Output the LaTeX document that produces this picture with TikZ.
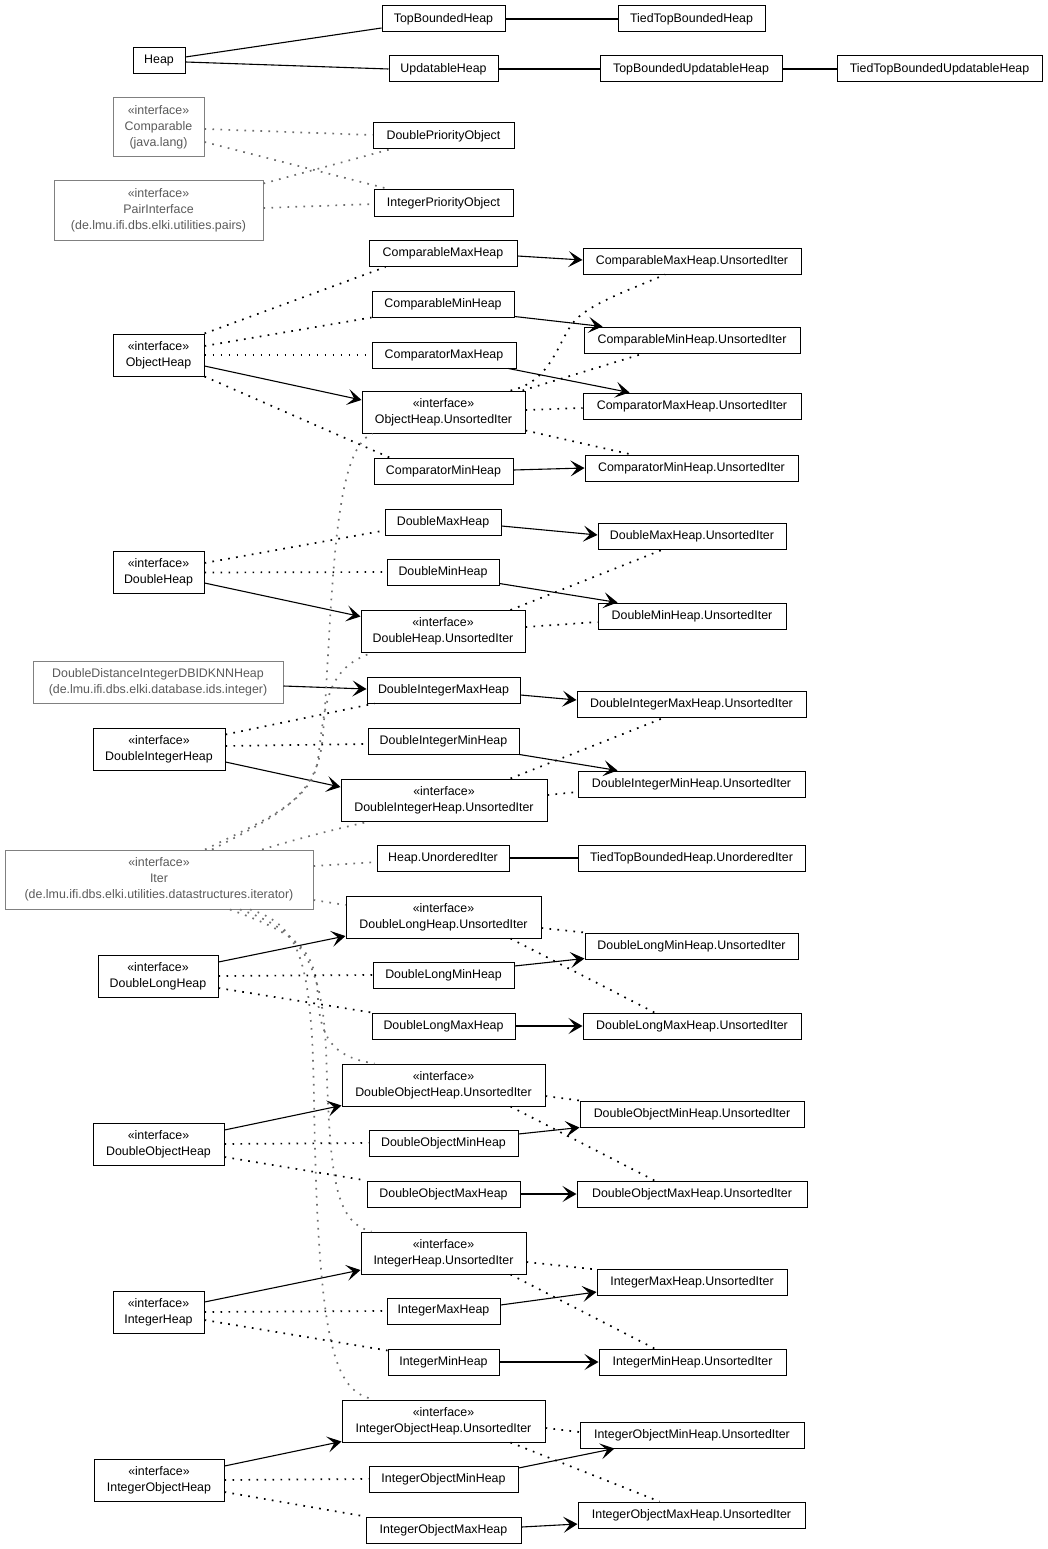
\documentclass[tikz,border=0pt]{standalone}
\usepackage{fontspec}
\setmainfont{Liberation Sans}[Ligatures=NoCommon]
\usetikzlibrary{arrows.meta}
\definecolor{extgray}{HTML}{808080}
\definecolor{exttext}{HTML}{5A5A5A}
\definecolor{extdot}{HTML}{6E6E6E}
\begin{document}
\begin{tikzpicture}[x=1pt,y=-1pt,
  box/.style={draw=black, line width=1pt, fill=white, inner xsep=0pt, inner ysep=1pt,
    font=\fontsize{12.4}{16}\selectfont, align=center, minimum height=26pt},
  boxtwo/.style={box, minimum height=42pt},
  extbox/.style={box, draw=extgray, text=exttext, minimum height=59pt},
  extboxtwo/.style={box, draw=extgray, text=exttext, minimum height=42pt},
  conn/.style={draw=black, line width=1.1pt},
  arr/.style={conn, -{Stealth[length=14pt,width=16pt,inset=6.5pt]}},
  real/.style={draw=black, line width=1.7pt, dash pattern=on 1.7pt off 6.3pt},
  extreal/.style={draw=extdot, line width=1.7pt, dash pattern=on 1.7pt off 6.3pt}
]
\useasboundingbox (0,0) rectangle (1048,1549);

% ---------- nodes ----------
\node[box, minimum width=52pt] (heap) at (159,60.5) {Heap};
\node[box, minimum width=123pt] (tbh) at (443.5,19) {TopBoundedHeap};
\node[box, minimum width=147pt] (ttbh) at (691.5,19) {TiedTopBoundedHeap};
\node[box, minimum width=109pt] (uh) at (443.5,69) {UpdatableHeap};
\node[box, minimum width=182pt] (tbuh) at (691,69) {TopBoundedUpdatableHeap};
\node[box, minimum width=205pt] (ttbuh) at (939.5,69) {TiedTopBoundedUpdatableHeap};

\node[extbox, minimum width=91pt] (comparable) at (158.5,127.5) {«interface»\\Comparable\\(java.lang)};
\node[extbox, minimum width=209pt] (pair) at (158.5,210.5) {«interface»\\PairInterface\\(de.lmu.ifi.dbs.elki.utilities.pairs)};
\node[box, minimum width=141pt] (dpo) at (443.5,136) {DoublePriorityObject};
\node[box, minimum width=139pt] (ipo) at (443.5,203) {IntegerPriorityObject};

\node[box, minimum width=148pt] (cmaxh) at (443,253.5) {ComparableMaxHeap};
\node[box, minimum width=218pt] (cmaxhui) at (692,261) {ComparableMaxHeap.UnsortedIter};
\node[box, minimum width=142pt] (cminh) at (443,304) {ComparableMinHeap};
\node[box, minimum width=216pt] (cminhui) at (692,340) {ComparableMinHeap.UnsortedIter};
\node[boxtwo, minimum width=91pt] (objheap) at (158.5,355) {«interface»\\ObjectHeap};
\node[box, minimum width=144pt] (cpmaxh) at (444,355) {ComparatorMaxHeap};
\node[boxtwo, minimum width=163pt] (ohui) at (443.5,412) {«interface»\\ObjectHeap.UnsortedIter};
\node[box, minimum width=218pt] (cpmaxhui) at (692,406) {ComparatorMaxHeap.UnsortedIter};
\node[box, minimum width=139pt] (cpminh) at (443.5,471) {ComparatorMinHeap};
\node[box, minimum width=213pt] (cpminhui) at (691.5,468) {ComparatorMinHeap.UnsortedIter};

\node[box, minimum width=116pt] (dmaxh) at (443,522) {DoubleMaxHeap};
\node[box, minimum width=188pt] (dmaxhui) at (692,536) {DoubleMaxHeap.UnsortedIter};
\node[boxtwo, minimum width=91pt] (dheap) at (158.5,572.5) {«interface»\\DoubleHeap};
\node[box, minimum width=112pt] (dminh) at (443,572) {DoubleMinHeap};
\node[box, minimum width=188pt] (dminhui) at (692,616) {DoubleMinHeap.UnsortedIter};
\node[boxtwo, minimum width=164pt] (dhui) at (443,631.5) {«interface»\\DoubleHeap.UnsortedIter};

\node[extboxtwo, minimum width=250pt] (ddknn) at (158,682) {DoubleDistanceIntegerDBIDKNNHeap\\(de.lmu.ifi.dbs.elki.database.ids.integer)};
\node[box, minimum width=153pt] (dimaxh) at (443.5,690) {DoubleIntegerMaxHeap};
\node[box, minimum width=229pt] (dimaxhui) at (691.5,704) {DoubleIntegerMaxHeap.UnsortedIter};
\node[boxtwo, minimum width=132pt] (diheap) at (159,749) {«interface»\\DoubleIntegerHeap};
\node[box, minimum width=151pt] (diminh) at (443.5,741) {DoubleIntegerMinHeap};
\node[box, minimum width=227pt] (diminhui) at (691.5,784) {DoubleIntegerMinHeap.UnsortedIter};
\node[boxtwo, minimum width=206pt] (dihui) at (444,800) {«interface»\\DoubleIntegerHeap.UnsortedIter};

\node[extbox, minimum width=308pt] (iter) at (159,879.5) {«interface»\\Iter\\(de.lmu.ifi.dbs.elki.utilities.datastructures.iterator)};
\node[box, minimum width=132pt] (huoi) at (443,858) {Heap.UnorderedIter};
\node[box, minimum width=227pt] (ttbhuoi) at (691.5,858) {TiedTopBoundedHeap.UnorderedIter};

\node[boxtwo, minimum width=195pt] (dlhui) at (443.5,917) {«interface»\\DoubleLongHeap.UnsortedIter};
\node[box, minimum width=213pt] (dlminhui) at (691.5,946) {DoubleLongMinHeap.UnsortedIter};
\node[boxtwo, minimum width=120pt] (dlheap) at (158,976) {«interface»\\DoubleLongHeap};
\node[box, minimum width=141pt] (dlminh) at (443.5,975) {DoubleLongMinHeap};
\node[box, minimum width=143pt] (dlmaxh) at (443.5,1026) {DoubleLongMaxHeap};
\node[box, minimum width=218pt] (dlmaxhui) at (692,1026) {DoubleLongMaxHeap.UnsortedIter};

\node[boxtwo, minimum width=203pt] (dohui) at (443.5,1085) {«interface»\\DoubleObjectHeap.UnsortedIter};
\node[box, minimum width=224pt] (dominhui) at (692,1114) {DoubleObjectMinHeap.UnsortedIter};
\node[boxtwo, minimum width=131pt] (doheap) at (158.5,1144) {«interface»\\DoubleObjectHeap};
\node[box, minimum width=149pt] (dominh) at (443.5,1143) {DoubleObjectMinHeap};
\node[box, minimum width=153pt] (domaxh) at (443.5,1194) {DoubleObjectMaxHeap};
\node[box, minimum width=230pt] (domaxhui) at (692,1194) {DoubleObjectMaxHeap.UnsortedIter};

\node[boxtwo, minimum width=165pt] (ihui) at (443.5,1253) {«interface»\\IntegerHeap.UnsortedIter};
\node[box, minimum width=190pt] (imaxhui) at (692,1282) {IntegerMaxHeap.UnsortedIter};
\node[boxtwo, minimum width=91pt] (iheap) at (158.5,1312) {«interface»\\IntegerHeap};
\node[box, minimum width=113pt] (imaxh) at (443.5,1311) {IntegerMaxHeap};
\node[box, minimum width=111pt] (iminh) at (443.5,1362) {IntegerMinHeap};
\node[box, minimum width=187pt] (iminhui) at (692.5,1362) {IntegerMinHeap.UnsortedIter};

\node[boxtwo, minimum width=203pt] (iohui) at (443.5,1421) {«interface»\\IntegerObjectHeap.UnsortedIter};
\node[box, minimum width=224pt] (iominhui) at (692,1435) {IntegerObjectMinHeap.UnsortedIter};
\node[boxtwo, minimum width=130pt] (ioheap) at (159,1480) {«interface»\\IntegerObjectHeap};
\node[box, minimum width=149pt] (iominh) at (443.5,1479) {IntegerObjectMinHeap};
\node[box, minimum width=155pt] (iomaxh) at (443.5,1530) {IntegerObjectMaxHeap};
\node[box, minimum width=227pt] (iomaxhui) at (691.5,1515) {IntegerObjectMaxHeap.UnsortedIter};

% ---------- plain associations ----------
\draw[conn] ([shift={(0,-3.5)}]heap.east) -- ([shift={(0,9)}]tbh.west);
\draw[conn] ([shift={(0,1.5)}]heap.east) -- (uh.west);
\draw[conn] (tbh.east) -- (ttbh.west);
\draw[conn] (uh.east) -- (tbuh.west);
\draw[conn] (tbuh.east) -- (ttbuh.west);
\draw[conn] (huoi.east) -- (ttbhuoi.west);

% ---------- external interfaces ----------
\draw[extreal] ([shift={(0,1.5)}]comparable.east) -- ([shift={(0,-1)}]dpo.west);
\draw[extreal] ([shift={(0,14.5)}]comparable.east) -- ([shift={(17,0)}]ipo.north west);
\draw[extreal] ([shift={(0,3)}]pair.north east) -- ([shift={(17,0)}]dpo.south west);
\draw[extreal] ([shift={(0,-2.5)}]pair.east) -- ([shift={(0,1)}]ipo.west);

% ---------- ObjectHeap ----------
\draw[real] (objheap.north east) -- ([shift={(17,0)}]cmaxh.south west);
\draw[real] ([shift={(0,-9)}]objheap.east) -- (cminh.south west);
\draw[real] (objheap.east) -- (cpmaxh.west);
\draw[real] (objheap.south east) -- ([shift={(16,0)}]cpminh.north west);
\draw[arr] ([shift={(0,11)}]objheap.east) -- ([shift={(0,-12)}]ohui.west);
\draw[real] ([shift={(-15,0)}]ohui.north east) .. controls (550,382) and (557,345) .. (572,324) .. controls (587,304) and (630,290) .. ([shift={(-27,0)}]cmaxhui.south);
\draw[real] ([shift={(-3,0)}]ohui.north east) -- ([shift={(60,0)}]cminhui.south west);
\draw[real] ([shift={(0,-2)}]ohui.east) -- ([shift={(0,2)}]cpmaxhui.west);
\draw[real] ([shift={(0,-3)}]ohui.south east) -- ([shift={(47,0)}]cpminhui.north west);
\draw[arr] ([shift={(0,2.5)}]cmaxh.east) -- ([shift={(0,-1)}]cmaxhui.west);
\draw[arr] ([shift={(0,-1)}]cminh.south east) -- ([shift={(19,0)}]cminhui.north west);
\draw[arr] ([shift={(-8,0)}]cpmaxh.south east) -- ([shift={(47,0)}]cpmaxhui.north west);
\draw[arr] ([shift={(0,-1)}]cpminh.east) -- (cpminhui.west);

% ---------- DoubleHeap ----------
\draw[real] ([shift={(0,-9.5)}]dheap.east) -- ([shift={(0,-5)}]dmaxh.south west);
\draw[real] (dheap.east) -- (dminh.west);
\draw[arr] ([shift={(0,10.5)}]dheap.east) -- ([shift={(0,-15)}]dhui.west);
\draw[real] ([shift={(-15,0)}]dhui.north east) -- ([shift={(-29,0)}]dmaxhui.south);
\draw[real] ([shift={(0,-4.5)}]dhui.east) -- ([shift={(0,6)}]dminhui.west);
\draw[arr] ([shift={(0,4)}]dmaxh.east) -- ([shift={(0,-1)}]dmaxhui.west);
\draw[arr] ([shift={(0,-2)}]dminh.south east) -- ([shift={(20,0)}]dminhui.north west);

% ---------- DoubleDistanceIntegerDBIDKNNHeap ----------
\draw[arr] ([shift={(0,4)}]ddknn.east) -- ([shift={(0,-1)}]dimaxh.west);

% ---------- DoubleIntegerHeap ----------
\draw[real] ([shift={(0,7)}]diheap.north east) -- ([shift={(8,0)}]dimaxh.south west);
\draw[real] ([shift={(0,-3)}]diheap.east) -- ([shift={(0,3)}]diminh.west);
\draw[arr] ([shift={(0,13)}]diheap.east) -- ([shift={(0,-13)}]dihui.west);
\draw[real] ([shift={(-37,0)}]dihui.north east) -- ([shift={(-27,0)}]dimaxhui.south);
\draw[real] ([shift={(0,-5)}]dihui.east) -- ([shift={(0,8)}]diminhui.west);
\draw[arr] ([shift={(0,5)}]dimaxh.east) -- ([shift={(0,-4)}]dimaxhui.west);
\draw[arr] (diminh.south east) -- ([shift={(40,0)}]diminhui.north west);

% ---------- Iter ----------
\draw[extreal] ([shift={(0,-13.5)}]iter.east) -- ([shift={(0,4)}]huoi.west);
\draw[extreal] ([shift={(0,20.5)}]iter.east) -- ([shift={(0,-12)}]dlhui.west);
\draw[extreal] ([shift={(103,0)}]iter.north) .. controls (300,838) and (340,828) .. ([shift={(29,0)}]dihui.south west);
\draw[extreal] ([shift={(46,0)}]iter.north) .. controls (270,818) and (312,800) .. (318,760) .. controls (325,700) and (328,668) .. ([shift={(11,0)}]dhui.south west);
\draw[extreal] ([shift={(53,0)}]iter.north) .. controls (285,812) and (318,795) .. (323,735) .. controls (333,600) and (332,450) .. ([shift={(11,0)}]ohui.south west);
\draw[extreal] ([shift={(71,0)}]iter.south) .. controls (300,935) and (316,950) .. (318,1000) .. controls (321,1045) and (340,1058) .. ([shift={(33,0)}]dohui.north west);
\draw[extreal] ([shift={(81,0)}]iter.south) .. controls (300,930) and (322,960) .. (326,1050) .. controls (330,1180) and (335,1222) .. ([shift={(11,0)}]ihui.north west);
\draw[extreal] ([shift={(91,0)}]iter.south) .. controls (300,925) and (312,960) .. (314,1100) .. controls (318,1350) and (335,1392) .. ([shift={(33,0)}]iohui.north west);

% ---------- DoubleLongHeap ----------
\draw[arr] ([shift={(0,-14)}]dlheap.east) -- ([shift={(0,19)}]dlhui.west);
\draw[real] (dlheap.east) -- (dlminh.west);
\draw[real] ([shift={(0,12)}]dlheap.east) -- (dlmaxh.north west);
\draw[real] ([shift={(0,11)}]dlhui.east) -- (dlminhui.north west);
\draw[real] ([shift={(-31,0)}]dlhui.south east) -- ([shift={(72,0)}]dlmaxhui.north west);
\draw[arr] ([shift={(0,-9)}]dlminh.east) -- ([shift={(0,-1)}]dlminhui.south west);
\draw[arr] (dlmaxh.east) -- (dlmaxhui.west);

% ---------- DoubleObjectHeap ----------
\draw[arr] ([shift={(0,-14)}]doheap.east) -- ([shift={(0,-1)}]dohui.south west);
\draw[real] (doheap.east) -- (dominh.west);
\draw[real] ([shift={(0,13)}]doheap.east) -- (domaxh.north west);
\draw[real] ([shift={(0,11)}]dohui.east) -- (dominhui.north west);
\draw[real] ([shift={(-35,0)}]dohui.south east) -- ([shift={(78,0)}]domaxhui.north west);
\draw[arr] ([shift={(0,-9)}]dominh.east) -- (dominhui.south west);
\draw[arr] (domaxh.east) -- (domaxhui.west);

% ---------- IntegerHeap ----------
\draw[arr] ([shift={(0,-10)}]iheap.east) -- ([shift={(0,17)}]ihui.west);
\draw[real] (iheap.east) -- (imaxh.west);
\draw[real] ([shift={(0,8)}]iheap.east) -- ([shift={(0,2)}]iminh.north west);
\draw[real] ([shift={(0,9)}]ihui.east) -- ([shift={(0,1)}]imaxhui.north west);
\draw[real] ([shift={(-16,0)}]ihui.south east) -- ([shift={(56,0)}]iminhui.north west);
\draw[arr] ([shift={(0,-6)}]imaxh.east) -- ([shift={(0,10)}]imaxhui.west);
\draw[arr] (iminh.east) -- (iminhui.west);

% ---------- IntegerObjectHeap ----------
\draw[arr] ([shift={(0,-14)}]ioheap.east) -- ([shift={(0,-1)}]iohui.south west);
\draw[real] (ioheap.east) -- (iominh.west);
\draw[real] ([shift={(0,12)}]ioheap.east) -- (iomaxh.north west);
\draw[real] ([shift={(0,7)}]iohui.east) -- ([shift={(0,-3)}]iominhui.west);
\draw[real] ([shift={(-35,0)}]iohui.south east) -- ([shift={(82,0)}]iomaxhui.north west);
\draw[arr] ([shift={(0,-11)}]iominh.east) -- ([shift={(35,0)}]iominhui.south west);
\draw[arr] ([shift={(0,-3)}]iomaxh.east) -- ([shift={(0,9)}]iomaxhui.west);
\end{tikzpicture}
\end{document}
